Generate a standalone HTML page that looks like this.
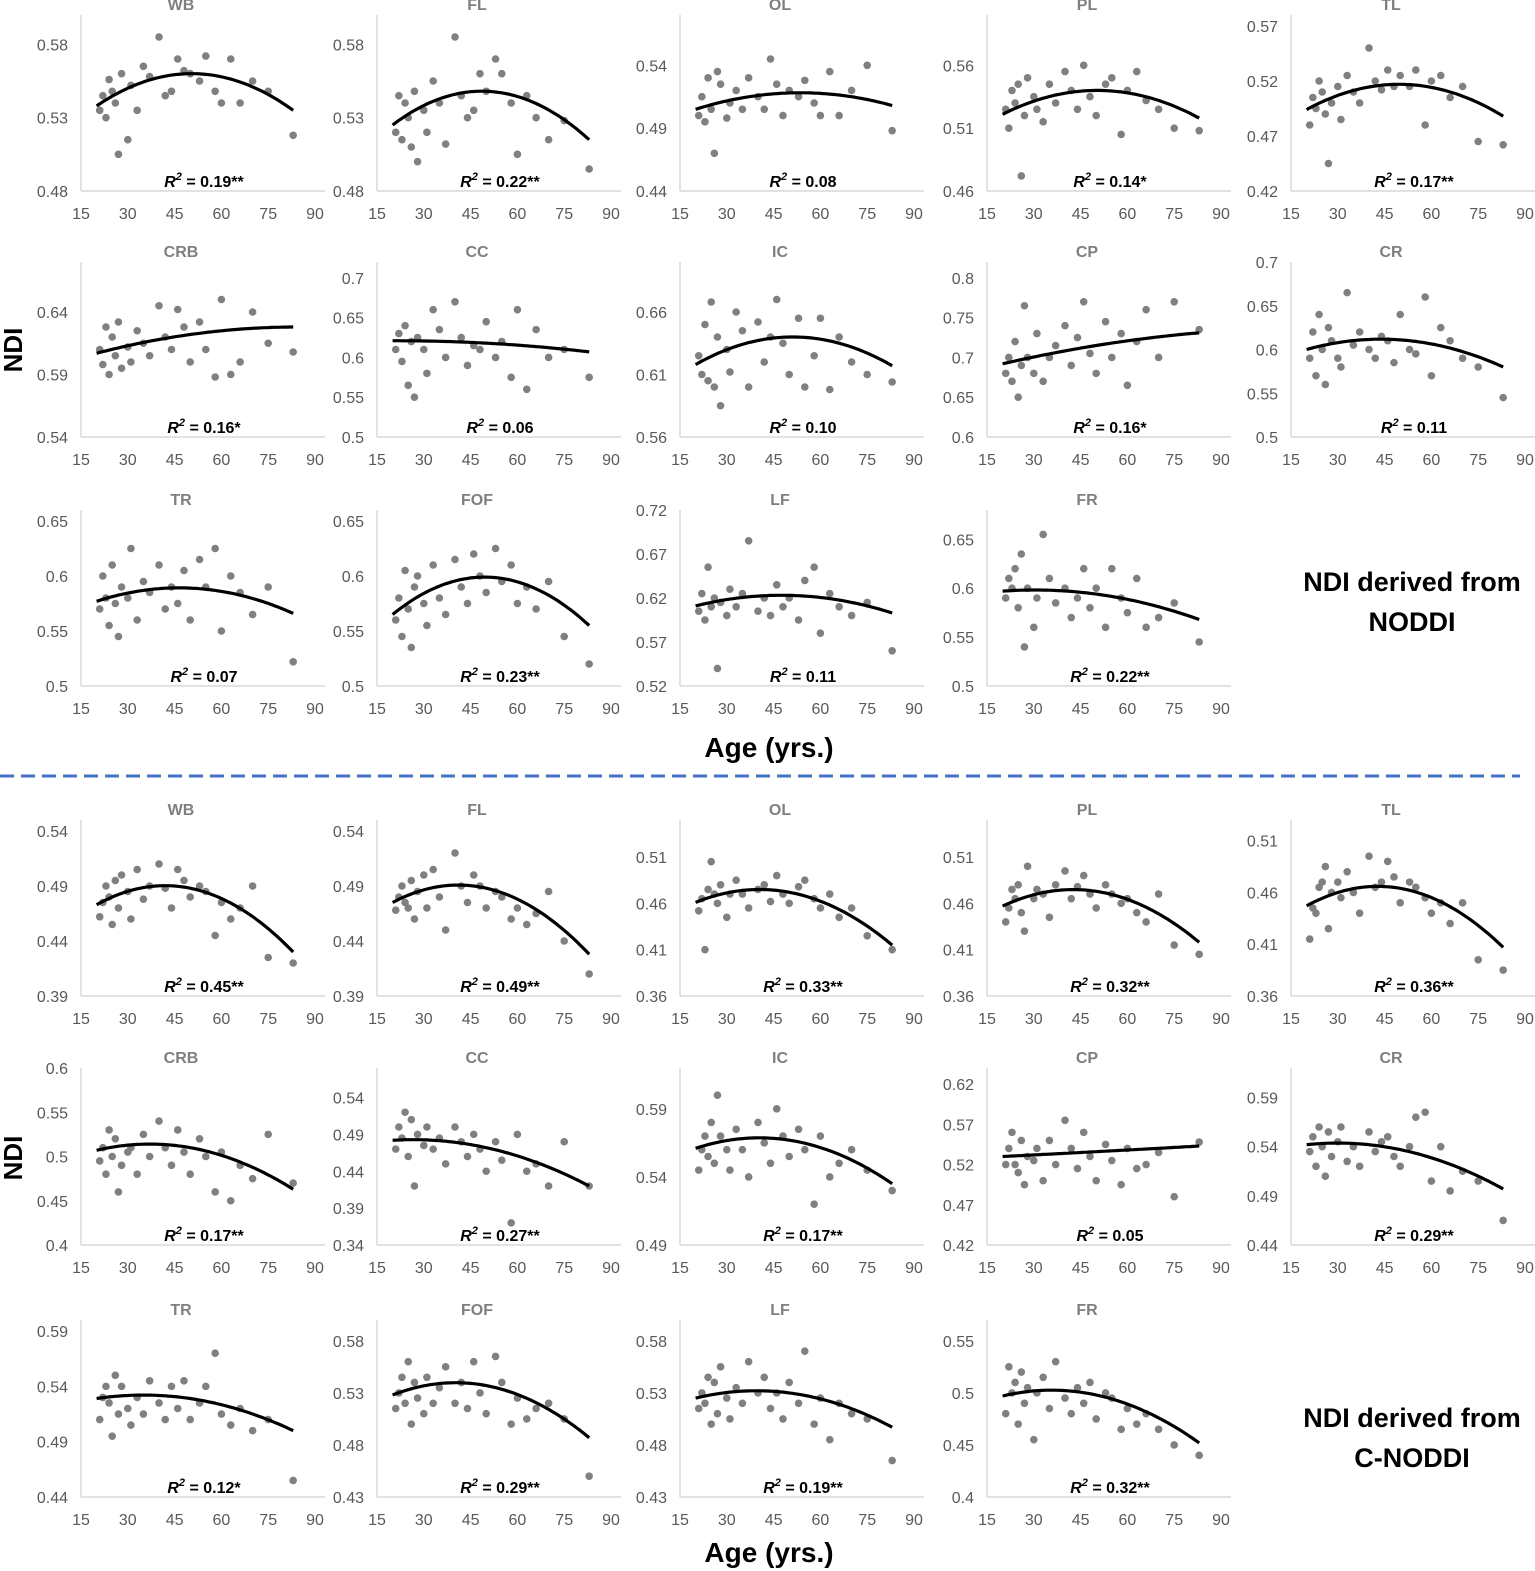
<!DOCTYPE html>
<html><head><meta charset="utf-8">
<style>
html,body{margin:0;padding:0;background:#fff;}
svg{display:block;font-family:"Liberation Sans",Arial,sans-serif;}
</style></head>
<body>
<svg id="chart" width="1535" height="1571" viewBox="0 0 1535 1571" xmlns="http://www.w3.org/2000/svg">
<g>
<text x="22" y="350" transform="rotate(-90 22 350)" text-anchor="middle" font-size="26" font-weight="bold" fill="#000">NDI</text>
<text x="22" y="1158" transform="rotate(-90 22 1158)" text-anchor="middle" font-size="26" font-weight="bold" fill="#000">NDI</text>
<text x="769" y="757" text-anchor="middle" font-size="28" font-weight="bold" fill="#000">Age (yrs.)</text>
<text x="769" y="1562" text-anchor="middle" font-size="28" font-weight="bold" fill="#000">Age (yrs.)</text>
<text x="1412" y="591" text-anchor="middle" font-size="27" font-weight="bold" fill="#000">NDI derived from</text>
<text x="1412" y="631" text-anchor="middle" font-size="27" font-weight="bold" fill="#000">NODDI</text>
<text x="1412" y="1427" text-anchor="middle" font-size="27" font-weight="bold" fill="#000">NDI derived from</text>
<text x="1412" y="1467" text-anchor="middle" font-size="27" font-weight="bold" fill="#000">C-NODDI</text>
<line x1="0" y1="776" x2="1520" y2="776" stroke="#4472c4" stroke-width="3" stroke-dasharray="14 7"/>
</g>
<g id="panels"></g>
</svg>
<script>
const ages = [21,22,23,24,25,26,27,28,30,31,33,35,37,40,42,44,46,48,50,53,55,58,60,63,66,70,75,83];
const xTicks = [15,30,45,60,75,90];
const titles = ["WB","FL","OL","PL","TL","CRB","CC","IC","CP","CR","TR","FOF","LF","FR"];
// NODDI panels
const valsTop = [
[535,545,530,556,548,540,505,560,515,552,535,565,558,585,545,548,570,562,560,555,572,548,540,570,540,555,548,518],
[520,545,515,540,530,510,548,500,535,520,555,540,512,585,545,530,535,560,548,570,560,540,505,545,530,515,528,495],
[500,515,495,530,505,470,535,525,498,510,520,505,530,515,505,545,525,500,520,515,528,510,500,535,500,520,540,488],
[525,510,540,530,545,472,520,550,535,525,515,545,530,555,540,525,560,535,520,545,550,505,540,555,532,525,510,508],
[480,505,495,520,510,490,445,500,515,485,525,510,500,550,520,512,530,515,525,515,530,480,520,525,505,515,465,462],
[610,598,628,590,620,605,632,595,612,600,625,615,605,645,620,610,642,628,600,632,610,588,650,590,600,640,615,608],
[610,630,595,640,565,620,550,625,610,580,660,635,600,670,625,590,615,610,645,600,620,575,660,560,635,600,610,575],
[625,610,650,605,668,600,640,585,630,612,660,645,600,652,620,640,670,635,610,655,600,625,655,598,640,620,610,604],
[680,700,670,720,650,690,765,700,680,730,670,700,715,740,690,725,770,705,680,745,700,730,665,720,760,700,770,735],
[590,620,570,640,600,560,625,610,590,580,665,605,620,600,590,615,610,585,640,600,595,660,570,625,610,590,580,545],
[570,600,580,555,610,575,545,590,580,625,560,595,585,610,570,590,575,605,560,615,590,625,550,600,585,565,590,522],
[560,580,545,605,570,535,590,600,575,555,610,580,565,615,590,575,620,600,585,625,595,610,575,590,570,595,545,520],
[605,625,595,655,610,620,540,615,600,630,610,625,685,605,620,600,635,610,620,595,640,655,580,625,610,600,615,560],
[590,610,600,620,580,635,540,600,560,590,655,610,585,600,570,590,620,580,600,560,620,590,575,610,560,570,585,545]];
// C-NODDI panels
const valsBot = [
[462,475,490,480,455,495,470,500,485,460,505,478,490,510,488,470,505,495,480,490,485,445,475,460,470,490,425,420],
[468,480,490,475,470,495,460,485,500,470,505,480,450,520,490,475,500,490,470,485,480,460,470,455,465,485,440,410],
[452,465,410,475,505,470,460,480,445,470,485,470,455,475,480,462,490,470,460,478,485,465,455,470,445,455,425,410],
[440,455,475,465,480,450,430,500,465,475,470,445,480,495,465,478,490,470,455,480,470,460,465,450,440,470,415,405],
[415,445,440,465,470,485,425,460,470,455,480,460,440,495,465,470,490,475,450,470,465,455,440,450,430,450,395,385],
[495,510,480,530,500,520,460,490,505,510,480,525,500,540,510,490,530,505,480,520,500,460,505,450,490,475,525,470],
[470,500,485,520,460,510,420,490,475,500,470,485,450,500,480,460,490,470,440,480,455,370,490,440,450,420,480,420],
[545,560,570,555,580,550,600,570,560,545,575,560,540,580,565,550,590,570,555,575,560,520,570,540,550,560,545,530],
[520,540,560,520,510,550,495,530,525,540,500,550,520,575,540,515,560,530,500,545,525,495,540,515,520,535,480,548],
[535,550,520,560,540,510,555,530,545,560,525,540,520,555,535,545,550,530,520,540,570,575,505,540,495,515,505,465],
[510,530,540,525,495,550,515,540,520,505,530,515,545,525,510,540,520,545,510,525,540,570,515,505,520,500,510,455],
[515,530,545,520,560,500,540,525,510,545,520,535,555,520,540,515,560,530,510,565,540,500,525,505,515,520,505,450],
[515,530,520,545,500,540,510,555,525,505,535,520,560,530,545,515,530,505,540,520,570,500,525,485,520,510,505,465],
[480,525,500,510,470,520,490,505,455,500,515,485,530,495,480,505,490,510,475,500,495,465,485,470,480,465,450,440]];
// trend fit values at ages 20, 50, 83
const fitTop = [[.538,.560,.535],[.525,.548,.515],[.505,.518,.508],[.521,.540,.518],[.494,.517,.488],[.607,.622,.628],[.621,.618,.607],[.618,.640,.617],[.692,.715,.731],[.600,.611,.580],[.577,.589,.566],[.565,.599,.555],[.611,.623,.603],[.597,.594,.568]];
const fitBot = [[.473,.488,.430],[.475,.488,.428],[.461,.472,.415],[.457,.473,.418],[.447,.464,.407],[.507,.510,.463],[.482,.472,.420],[.561,.567,.535],[.530,.536,.543],[.542,.537,.497],[.529,.529,.500],[.528,.537,.487],[.525,.530,.497],[.497,.498,.452]];
const r2Top = ["0.19**","0.22**","0.08","0.14*","0.17**","0.16*","0.06","0.10","0.16*","0.11","0.07","0.23**","0.11","0.22**"];
const r2Bot = ["0.45**","0.49**","0.33**","0.32**","0.36**","0.17**","0.27**","0.17**","0.05","0.29**","0.12*","0.29**","0.19**","0.32**"];
// y axis [min, max, step]
const yAxTop = [[.48,.6,.05],[.48,.6,.05],[.44,.58,.05],[.46,.6,.05],[.42,.58,.05],[.54,.68,.05],[.5,.72,.05],[.56,.7,.05],[.6,.82,.05],[.5,.7,.05],[.5,.66,.05],[.5,.66,.05],[.52,.72,.05],[.5,.68,.05]];
const yAxBot = [[.39,.55,.05],[.39,.55,.05],[.36,.55,.05],[.36,.55,.05],[.36,.53,.05],[.4,.6,.05],[.34,.58,.05],[.49,.62,.05],[.42,.64,.05],[.44,.62,.05],[.44,.6,.05],[.43,.6,.05],[.43,.6,.05],[.4,.57,.05]];

const colX = [81,377,680,987,1291];
const PW = 234;
const rowsTop = [[15,191],[262,437],[510,686]];
const rowsBot = [[820,996],[1068,1245],[1320,1497]];
const NS = "http://www.w3.org/2000/svg";
const root = document.getElementById('panels');
function mk(tag, attrs, parent){const e=document.createElementNS(NS,tag);for(const k in attrs)e.setAttribute(k,attrs[k]);parent.appendChild(e);return e;}
function fmt(v){return String(Number(v.toFixed(2)));}

function drawPanel(i, rows, vals, fit, r2, yAx, prefix){
  const r = Math.floor(i/5), c = i%5;
  const x0 = colX[c], top = rows[r][0], bot = rows[r][1];
  const [ymin,ymax,step] = yAx;
  const sx = a => x0 + (a-15)/75*PW;
  const sy = v => bot - (v-ymin)/(ymax-ymin)*(bot-top);
  const g = mk('g',{},root);
  
  
  const t = mk('text',{x:x0+100,y:top-5,'text-anchor':'middle','font-size':16,'font-weight':'bold',fill:'#7f7f7f'},g);
  t.textContent = titles[i];
  
  
  const ya = mk('line',{x1:x0,y1:top,x2:x0,y2:bot,stroke:'#d9d9d9','stroke-width':1.5},g);
  
  
  const xa = mk('line',{x1:x0,y1:bot,x2:x0+PW+10,y2:bot,stroke:'#d9d9d9','stroke-width':1.5},g);
  
  
  const n = Math.floor((ymax-ymin)/step + 1e-6);
  for(let k=0; k<=n; k++){
    const v = ymin + k*step;
    const tt = mk('text',{x:x0-13,y:sy(v)+6,'text-anchor':'end','font-size':16,fill:'#595959'},g);
    tt.textContent = fmt(v);
    
    
  }
  xTicks.forEach(a=>{
    const tt = mk('text',{x:sx(a),y:bot+28,'text-anchor':'middle','font-size':16,fill:'#595959'},g);
    tt.textContent = a;
    
    
  });
  ages.forEach((a,k)=>{
    const p = mk('circle',{cx:sx(a),cy:sy(vals[k]/1000),r:3.8,fill:'#808080'},g);
    
    
  });
  const [f0,f1,f2] = fit;
  const q = a => f0*((a-50)*(a-83))/((20-50)*(20-83)) + f1*((a-20)*(a-83))/((50-20)*(50-83)) + f2*((a-20)*(a-50))/((83-20)*(83-50));
  let d='';
  for(let a=20;a<=83;a+=1){d += (a===20?'M':'L')+sx(a).toFixed(1)+','+sy(q(a)).toFixed(1);}
  const path = mk('path',{d:d,fill:'none',stroke:'#000','stroke-width':3.2},g);
  
  
  const rt = mk('text',{x:x0+123,y:bot-4,'text-anchor':'middle','font-size':16,'font-weight':'bold',fill:'#000'},g);
  
  
  const s1 = mk('tspan',{'font-style':'italic'},rt); s1.textContent='R';
  const s2 = mk('tspan',{'font-size':11,dy:-7,'font-style':'italic'},rt); s2.textContent='2';
  const s3 = mk('tspan',{dy:7},rt); s3.textContent=' = '+r2;
}
for(let i=0;i<14;i++){
  drawPanel(i, rowsTop, valsTop[i], fitTop[i], r2Top[i], yAxTop[i], 'noddi');
  drawPanel(i, rowsBot, valsBot[i], fitBot[i], r2Bot[i], yAxBot[i], 'cnoddi');
}
</script>
</body></html>
